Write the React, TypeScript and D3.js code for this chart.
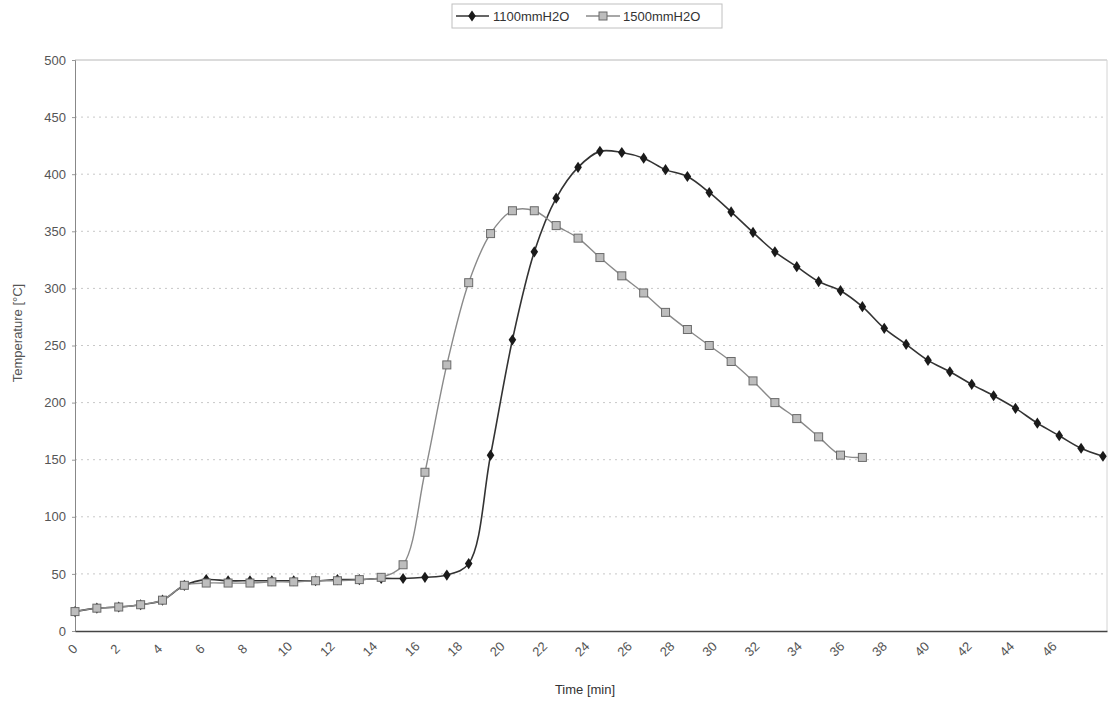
import React, { useRef, useEffect } from 'react';
import * as d3 from 'd3';

// time [min] of each reading (about one reading every 1.03 min)
const times = [
  0, 1.03, 2.06, 3.09, 4.12, 5.15, 6.18, 7.21, 8.24, 9.27, 10.3, 11.33,
  12.36, 13.39, 14.42, 15.45, 16.48, 17.51, 18.54, 19.57, 20.6, 21.63, 22.66, 23.69,
  24.72, 25.75, 26.78, 27.81, 28.84, 29.87, 30.9, 31.93, 32.96, 33.99, 35.02, 36.05,
  37.08, 38.11, 39.14, 40.17, 41.2, 42.23, 43.26, 44.29, 45.32, 46.35, 47.38, 48.41,
];

// temperature [°C], 1100 mmH2O
const temp1100 = [
  17, 20, 21, 23, 27, 40, 45, 44, 44, 44, 44, 44,
  45, 45, 46, 46, 47, 49, 59, 154, 255, 332, 379, 406,
  420, 419, 414, 404, 398, 384, 367, 349, 332, 319, 306, 298,
  284, 265, 251, 237, 227, 216, 206, 195, 182, 171, 160, 153,
];

// temperature [°C], 1500 mmH2O
const temp1500 = [
  17, 20, 21, 23, 27, 40, 42, 42, 42, 43, 43, 44,
  44, 45, 47, 58, 139, 233, 305, 348, 368, 368, 355, 344,
  327, 311, 296, 279, 264, 250, 236, 219, 200, 186, 170, 154, 152,
];

const xTicks = d3.range(0, 47, 2);
const yTicks = d3.range(0, 501, 50);

const W = 1110;
const H = 701;
const margin = { top: 60, right: 3, bottom: 70, left: 75 };
const font = "'Liberation Sans', Arial, sans-serif";

const App = () => {
  const ref = useRef(null);

  useEffect(() => {
    const svg = d3.select(ref.current);
    svg.selectAll('*').remove();

    const x = d3.scaleLinear().domain([0, 48.6]).range([margin.left, W - margin.right]);
    const y = d3.scaleLinear().domain([0, 500]).range([H - margin.bottom, margin.top]);

    // gridlines
    svg.append('g')
      .selectAll('line')
      .data(yTicks.filter((d) => d > 0 && d < 500))
      .join('line')
      .attr('x1', x(0)).attr('x2', x(48.6))
      .attr('y1', (d) => y(d)).attr('y2', (d) => y(d))
      .attr('stroke', '#c8c8c8')
      .attr('stroke-dasharray', '2,4');

    // plot border (top, right)
    svg.append('line')
      .attr('x1', x(0)).attr('x2', x(48.6)).attr('y1', y(500)).attr('y2', y(500))
      .attr('stroke', '#b8b8b8');
    svg.append('line')
      .attr('x1', x(48.6)).attr('x2', x(48.6)).attr('y1', y(500)).attr('y2', y(0))
      .attr('stroke', '#d4d4d4');

    // Y axis
    const yAxis = svg.append('g')
      .attr('transform', 'translate(' + margin.left + ',0)')
      .call(d3.axisLeft(y).tickValues(yTicks).tickSize(3).tickPadding(6));
    yAxis.select('.domain').attr('stroke', '#888');
    yAxis.selectAll('.tick line').attr('stroke', '#999');
    yAxis.selectAll('text')
      .style('font-family', font).style('font-size', '13px').attr('fill', '#555');

    // X axis
    const xAxis = svg.append('g')
      .attr('transform', 'translate(0,' + y(0) + ')')
      .call(d3.axisBottom(x).tickValues(xTicks).tickSize(0));
    xAxis.select('.domain').attr('stroke', '#444').attr('stroke-width', 1.3);
    xAxis.selectAll('text')
      .style('font-family', font).style('font-size', '13px').attr('fill', '#555')
      .attr('x', 0).attr('y', 0)
      .attr('dy', '0.35em')
      .attr('text-anchor', 'middle')
      .attr('transform', 'translate(-3,18) rotate(-45)');

    // axis titles
    svg.append('text')
      .attr('x', 585).attr('y', 694)
      .attr('text-anchor', 'middle')
      .style('font-family', font).style('font-size', '13px').attr('fill', '#333')
      .text('Time [min]');
    svg.append('text')
      .attr('transform', 'translate(22,333) rotate(-90)')
      .attr('text-anchor', 'middle')
      .style('font-family', font).style('font-size', '13px').attr('fill', '#555')
      .text('Temperature [°C]');

    const line = (vals) => d3.line()
      .x((d, i) => x(times[i]))
      .y((d) => y(d))
      .curve(d3.curveCatmullRom.alpha(0.5))(vals);

    //Add line 1, 1100mmH2O
    svg.append('path')
      .attr('d', line(temp1100))
      .attr('fill', 'none')
      .attr('stroke', '#333')
      .attr('stroke-width', 1.6);
    svg.append('g')
      .selectAll('path')
      .data(temp1100)
      .join('path')
      .attr('d', d3.symbol(d3.symbolDiamond, 50)())
      .attr('transform', (d, i) => 'translate(' + x(times[i]) + ',' + y(d) + ') scale(1,0.85)')
      .attr('fill', '#1a1a1a');

    //Add line 2, 1500mmH2O
    svg.append('path')
      .attr('d', line(temp1500))
      .attr('fill', 'none')
      .attr('stroke', '#8a8a8a')
      .attr('stroke-width', 1.4);
    svg.append('g')
      .selectAll('rect')
      .data(temp1500)
      .join('rect')
      .attr('x', (d, i) => x(times[i]) - 4)
      .attr('y', (d) => y(d) - 4)
      .attr('width', 8).attr('height', 8)
      .attr('fill', '#bdbdbd')
      .attr('stroke', '#6a6a6a')
      .attr('stroke-width', 1);

    // Handmade legend
    const lg = svg.append('g');
    lg.append('rect').attr('x', 452).attr('y', 4).attr('width', 270).attr('height', 24)
      .attr('fill', 'white').attr('stroke', '#c0c0c0');
    lg.append('line').attr('x1', 456).attr('x2', 489).attr('y1', 16).attr('y2', 16)
      .attr('stroke', '#333').attr('stroke-width', 1.6);
    lg.append('path').attr('d', d3.symbol(d3.symbolDiamond, 50)())
      .attr('transform', 'translate(472,16) scale(1,0.85)').attr('fill', '#1a1a1a');
    lg.append('text').attr('x', 493).attr('y', 21).text('1100mmH2O')
      .style('font-family', font).style('font-size', '13px').attr('fill', '#333');
    lg.append('line').attr('x1', 586).attr('x2', 620).attr('y1', 16).attr('y2', 16)
      .attr('stroke', '#8a8a8a').attr('stroke-width', 1.4);
    lg.append('rect').attr('x', 599).attr('y', 12).attr('width', 8).attr('height', 8)
      .attr('fill', '#bdbdbd').attr('stroke', '#6a6a6a');
    lg.append('text').attr('x', 623).attr('y', 21).text('1500mmH2O')
      .style('font-family', font).style('font-size', '13px').attr('fill', '#333');
  }, []);

  return (
    <div style={{ position: 'absolute', left: 0, top: 0 }}>
      <svg ref={ref} width={W} height={H} style={{ display: 'block', background: 'white' }}></svg>
    </div>
  );
};

export default App;
